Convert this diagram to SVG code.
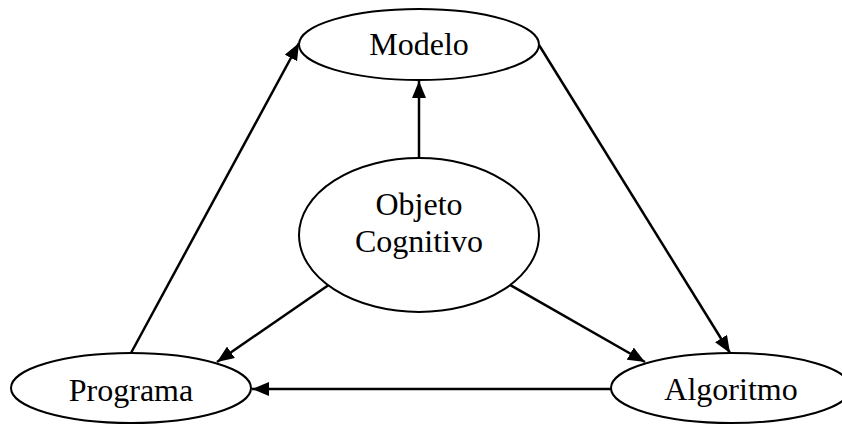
<svg xmlns="http://www.w3.org/2000/svg" width="842" height="425" viewBox="0 0 842 425">
  <style>
    .node ellipse { fill: #fff; stroke: #000; stroke-width: 2; }
    .node text { font-family: "Liberation Serif", "Times New Roman", serif; font-size: 32px; fill: #000; text-anchor: middle; }
    .edges line { stroke: #000; stroke-width: 2.5; marker-end: url(#arrow); }
  </style>
  <defs>
    <marker id="arrow" viewBox="0 0 17 14" refX="17" refY="7" markerWidth="17" markerHeight="14" markerUnits="userSpaceOnUse" orient="auto">
      <path d="M0,0 L17,7 L0,14 Z" fill="#000"/>
    </marker>
  </defs>

  <rect width="842" height="425" fill="#fff"/>

  <g class="edges">
    <line x1="419" y1="158" x2="419" y2="81"/>
    <line x1="131" y1="353" x2="299" y2="43"/>
    <line x1="539" y1="45" x2="730" y2="353"/>
    <line x1="333" y1="282" x2="217" y2="362"/>
    <line x1="505" y1="282" x2="645" y2="362"/>
    <line x1="611" y1="389" x2="252" y2="389"/>
  </g>

  <g id="modelo" class="node">
    <ellipse cx="419" cy="44.5" rx="120" ry="35.5"/>
    <text x="419" y="55">Modelo</text>
  </g>

  <g id="objeto-cognitivo" class="node">
    <ellipse cx="419" cy="235" rx="120" ry="77"/>
    <text x="419" y="215">Objeto</text>
    <text x="419" y="252">Cognitivo</text>
  </g>

  <g id="programa" class="node">
    <ellipse cx="131" cy="388" rx="120" ry="35"/>
    <text x="131" y="401">Programa</text>
  </g>

  <g id="algoritmo" class="node">
    <ellipse cx="731" cy="388" rx="120" ry="35"/>
    <text x="731" y="400">Algoritmo</text>
  </g>
</svg>
